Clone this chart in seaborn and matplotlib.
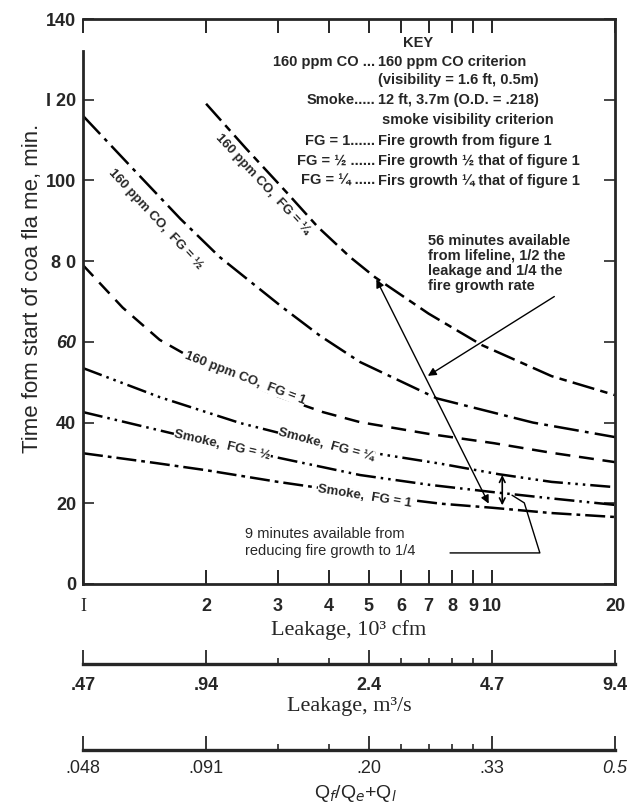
import matplotlib
matplotlib.use("Agg")
import matplotlib.pyplot as plt
import pandas as pd
import seaborn as sns
from matplotlib.ticker import FixedLocator, FixedFormatter, NullLocator, NullFormatter

# leakage (10^3 cfm) and time (min)
co_q_x = [2, 2.5, 3.15, 3.75, 4.5, 5.18, 7, 9.45, 14, 20]
co_q_y = [119, 108, 97, 88.5, 81, 76, 67, 59.2, 51.5, 46.8]
co_h_x = [1, 1.35, 1.73, 2.16, 3.08, 3.8, 4.76, 7.33, 12.6, 20]
co_h_y = [116, 102, 90.5, 81, 68.5, 61.5, 55, 46, 40, 36.4]
co_1_x = [1, 1.25, 1.54, 2, 3, 3.86, 4.76, 7, 10.1, 14, 20]
co_1_y = [79, 68.5, 60.5, 54, 46.5, 42.6, 40.1, 37.2, 34.9, 32.5, 30.2]
sm_q_x = [1, 1.54, 2.42, 3, 4, 5.47, 7.5, 10.4, 14, 20]
sm_q_y = [53.5, 46.3, 39.9, 37.5, 34.5, 32, 29.8, 27.2, 25.3, 24]
sm_h_x = [1, 1.52, 2, 3, 4.76, 7, 10, 14, 20]
sm_h_y = [42.6, 38.2, 35.3, 31.3, 27, 24.6, 22.8, 21.2, 19.6]
sm_1_x = [1, 1.5, 2, 3, 4.89, 7.5, 10, 13.9, 20]
sm_1_y = [32.4, 30, 28.2, 25.3, 22.2, 19.9, 18.9, 17.6, 16.6]

cfm_ticks = [1, 2, 3, 4, 5, 6, 7, 8, 9, 10, 20]
cfm_labels = ["I", "2", "3", "4", "5", "6", "7", "8", "9", "10", "20"]
major_ticks = [1, 2, 5, 10, 20]
minor_ticks = [3, 4, 6, 7, 8, 9]
m3s_labels = [".47", ".94", "2.4", "4.7", "9.4"]
frac_labels = [".048", ".091", ".20", ".33", "0.5"]
y_ticks = [0, 20, 40, 60, 80, 100, 120, 140]
y_labels = ["0", "20", "40", "60", "8 0", "100", "I 20", "140"]

W, H = 635, 809
LEFT, RIGHT = 83, 615


def px(x, y):
    return x / W, 1 - y / H


def build_frame():
    parts = [
        ("co_q", co_q_x, co_q_y),
        ("co_h", co_h_x, co_h_y),
        ("co_1", co_1_x, co_1_y),
        ("sm_q", sm_q_x, sm_q_y),
        ("sm_h", sm_h_x, sm_h_y),
        ("sm_1", sm_1_x, sm_1_y),
    ]
    rows = []
    for name, xs, ys in parts:
        for x, y in zip(xs, ys):
            rows.append({"curve": name, "leakage": x, "time": y})
    return pd.DataFrame(rows)


def bottom_scale(fig, yline, labels, pad):
    a = fig.add_axes([LEFT / W, (H - yline) / H, (RIGHT - LEFT) / W, 0.01])
    a.set_xscale("log")
    a.set_xlim(1, 20)
    a.set_yticks([])
    for s in ["left", "right", "top"]:
        a.spines[s].set_visible(False)
    a.spines["bottom"].set_linewidth(2.4)
    a.xaxis.set_major_locator(FixedLocator(major_ticks))
    a.xaxis.set_major_formatter(FixedFormatter(labels))
    a.xaxis.set_minor_locator(FixedLocator(minor_ticks))
    a.xaxis.set_minor_formatter(NullFormatter())
    a.tick_params(axis="x", which="major", direction="in", length=10, width=1.3,
                  labelsize=13, pad=pad)
    a.tick_params(axis="x", which="minor", direction="in", length=4, width=1.2)
    a.patch.set_alpha(0)
    return a


def main():
    sns.set_style("ticks")
    plt.rcParams["font.family"] = ["Liberation Sans", "DejaVu Sans"]
    df = build_frame()

    fig = plt.figure(figsize=(6.35, 8.09), dpi=100)
    ax = fig.add_axes([LEFT / W, (H - 584) / H, (RIGHT - LEFT) / W, 565 / H])

    dashes = {
        "co_q": (9, 2.5, 3, 2.5),
        "co_h": (10, 2.5, 1.5, 2.5),
        "co_1": (6, 3.5),
        "sm_q": (8, 2, 1, 2, 1, 2, 1, 2),
        "sm_h": (8, 2, 1, 2, 1, 2),
        "sm_1": (8, 2, 1.5, 2),
    }
    sns.lineplot(data=df, x="leakage", y="time", style="curve", dashes=dashes,
                 color="black", linewidth=1.8, estimator=None, sort=False,
                 legend=False, ax=ax)

    ax.set_xscale("log")
    ax.set_xlim(1, 20)
    ax.set_ylim(0, 140)
    ax.xaxis.set_major_locator(FixedLocator(cfm_ticks))
    ax.xaxis.set_major_formatter(FixedFormatter(cfm_labels))
    ax.xaxis.set_minor_locator(NullLocator())
    ax.set_yticks(y_ticks)
    ax.set_yticklabels(y_labels)
    ax.tick_params(axis="x", direction="in", length=10, width=1.4, top=True,
                   labelsize=13, pad=10)
    ax.tick_params(axis="y", direction="in", length=8, width=1.2, right=True,
                   labelsize=13, pad=5)
    for t in ax.get_xticklabels() + ax.get_yticklabels():
        t.set_fontweight("bold")
    ax.get_yticklabels()[3].set_style("italic")
    first = ax.get_xticklabels()[0]
    first.set_family("Liberation Serif")
    first.set_fontweight("normal")
    ax.set_xlabel("")
    ax.set_ylabel("")
    for s in ax.spines.values():
        s.set_linewidth(2)
    ax.spines["left"].set_bounds(0, 132)

    # curve labels
    lab = dict(fontsize=9.5, fontweight="bold", ha="center", va="center",
               rotation_mode="anchor")
    box = dict(facecolor="white", edgecolor="none", pad=0.3)
    ax.text(2.75, 99, "160 ppm CO,  FG = ¼", rotation=-47, **lab)
    ax.text(1.5, 90.5, "160 ppm CO,  FG = ½", rotation=-47, **lab)
    ax.text(2.49, 51, "160 ppm CO,  FG = 1", rotation=-21, bbox=box, **lab)
    ax.text(3.93, 34.4, "Smoke,  FG = ¼", rotation=-15, bbox=box, **lab)
    ax.text(2.19, 34.4, "Smoke,  FG = ½", rotation=-13, bbox=box, **lab)
    ax.text(4.89, 21.6, "Smoke,  FG = 1", rotation=-9, bbox=box, **lab)

    # key
    kt = dict(fontsize=10.5, fontweight="bold", va="center")
    fig.text(*px(418, 43), "KEY", ha="center", **kt)
    fig.text(*px(375, 62), "160 ppm CO ...", ha="right", **kt)
    fig.text(*px(378, 62), "160 ppm CO criterion", ha="left", **kt)
    fig.text(*px(378, 80), "(visibility = 1.6 ft, 0.5m)", ha="left", **kt)
    fig.text(*px(375, 100), "Smoke.....", ha="right", **kt)
    fig.text(*px(378, 100), "12 ft, 3.7m (O.D. = .218)", ha="left", **kt)
    fig.text(*px(382, 120), "smoke visibility criterion", ha="left", **kt)
    fig.text(*px(375, 141), "FG = 1......", ha="right", **kt)
    fig.text(*px(378, 141), "Fire growth from figure 1", ha="left", **kt)
    fig.text(*px(375, 161), "FG = ½ ......", ha="right", **kt)
    fig.text(*px(378, 161), "Fire growth ½ that of figure 1", ha="left", **kt)
    fig.text(*px(375, 181), "FG = ¼ .....", ha="right", **kt)
    fig.text(*px(378, 181), "Firs growth ¼ that of figure 1", ha="left", **kt)

    # annotations
    ax.text(6.97, 86.8, "56 minutes available\nfrom lifeline, 1/2 the\n"
            "leakage and 1/4 the\nfire growth rate", fontsize=10.5,
            fontweight="bold", ha="left", va="top", linespacing=1.1)
    ax.annotate("", xy=(6.88, 51.2), xytext=(14.4, 71.6),
                arrowprops=dict(arrowstyle="-|>", color="black", lw=1,
                                mutation_scale=12))
    ax.annotate("", xy=(5.18, 76.1), xytext=(9.89, 19.3),
                arrowprops=dict(arrowstyle="<|-|>", color="black", lw=1,
                                mutation_scale=12))
    ax.annotate("", xy=(10.6, 27.7), xytext=(10.6, 18.8),
                arrowprops=dict(arrowstyle="<->", color="black", lw=1.2,
                                mutation_scale=10))
    ax.text(2.49, 10.2, "9 minutes available from\nreducing fire growth to 1/4",
            fontsize=10.5, ha="left", va="center", linespacing=1.25)
    ax.plot([7.9, 13.1, 12.0, 11.2], [7.7, 7.7, 20.1, 22], color="black", lw=1)

    # axis titles
    fig.text(*px(33, 288), "Time fom start of coa fla me, min.", rotation=90,
             ha="center", va="center", fontsize=16,
             family=["Liberation Sans Narrow", "Liberation Sans"])
    fig.text(*px(349, 630), "Leakage, 10³ cfm", ha="center", va="center",
             fontsize=16, family="Liberation Serif")
    fig.text(*px(349, 707), "Leakage, m³/s", ha="center", va="center",
             fontsize=16, family="Liberation Serif")
    fig.text(*px(355, 793), "Q$_f$/Q$_e$+Q$_l$", ha="center", va="center",
             fontsize=14)

    a2 = bottom_scale(fig, 664, m3s_labels, 9)
    for t in a2.get_xticklabels():
        t.set_fontweight("bold")
    a3 = bottom_scale(fig, 750, frac_labels, 7)
    a3.get_xticklabels()[-1].set_style("italic")

    fig.savefig("out.png", dpi=100)


if __name__ == "__main__":
    main()
